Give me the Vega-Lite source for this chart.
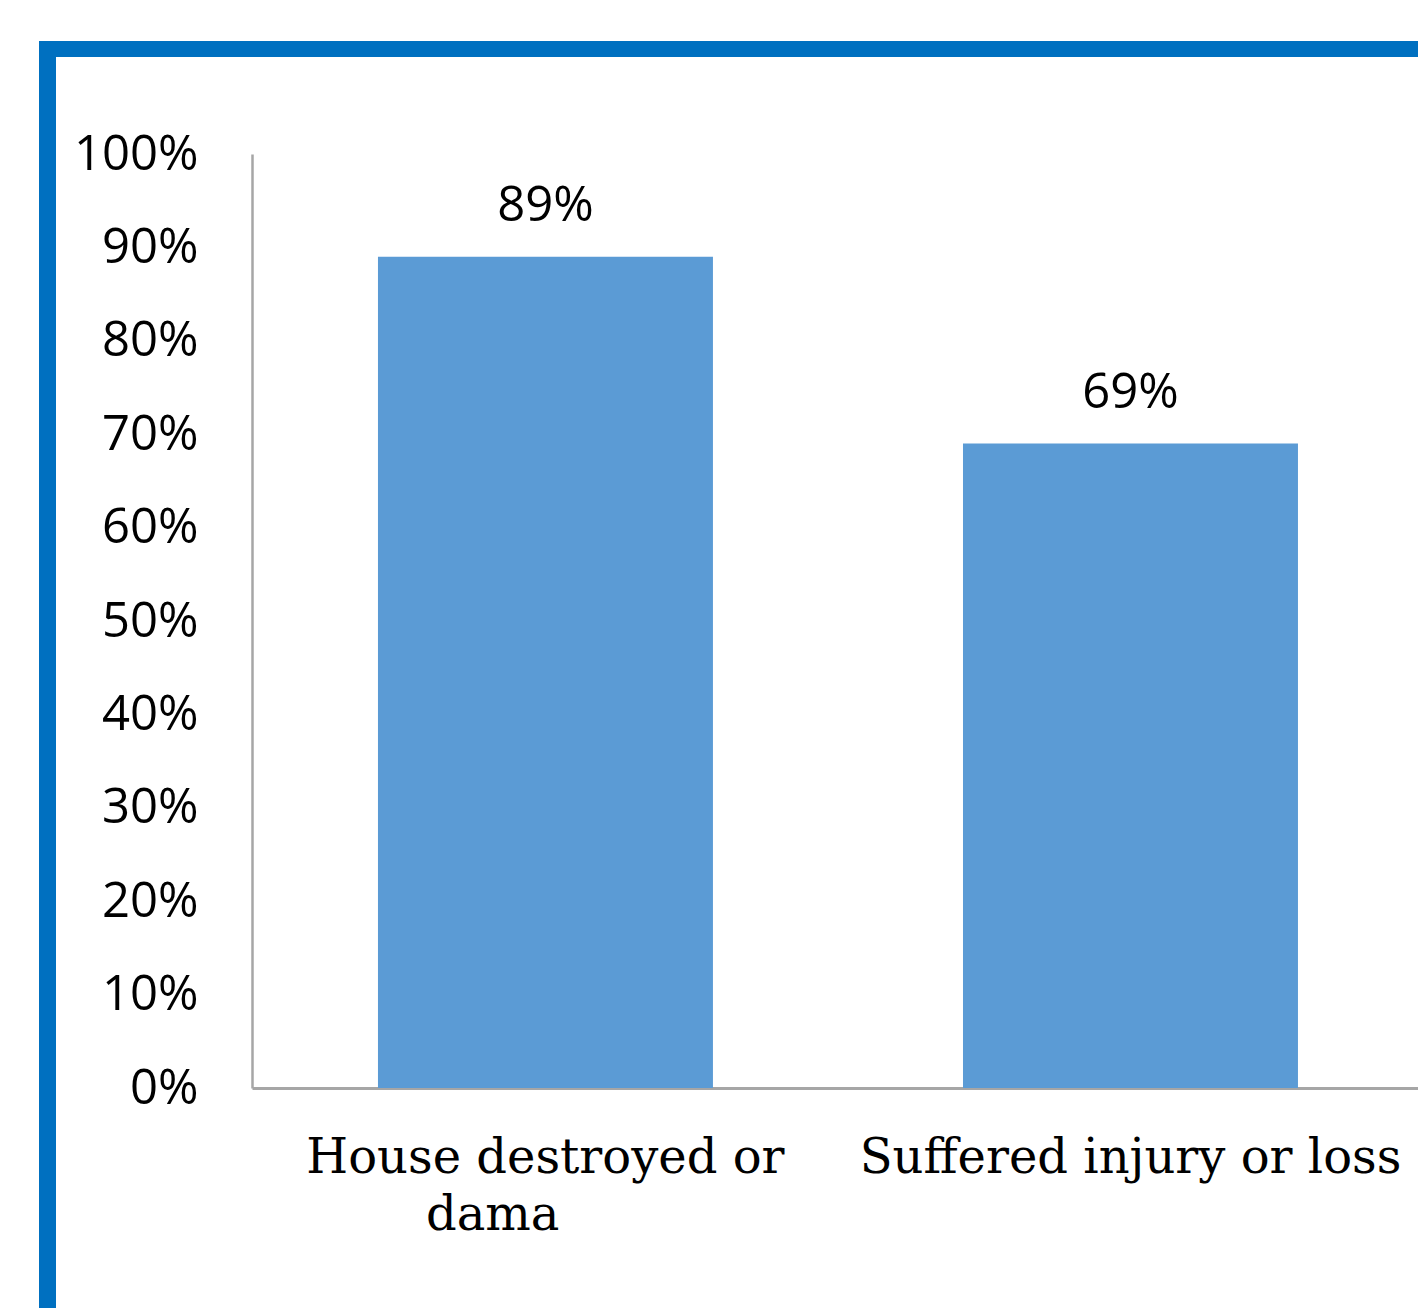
{
  "$schema": "https://vega.github.io/schema/vega-lite/v6.json",
  "padding": {"left": 38, "top": 40, "right": 0, "bottom": 0},
  "background": "white",
  "data": {"values": [
    {"category": "House destroyed or dama", "value": 0.89},
    {"category": "Suffered injury or loss", "value": 0.69}
  ]},
  "config": {"view": {"stroke": null}},
  "spacing": 0,
  "bounds": "flush",
  "vconcat": [
    {"width": 1380, "height": 16, "view": {"fill": "#0070C0", "stroke": null}, "mark": {"type": "rule", "opacity": 0}, "encoding": {}},
    {
      "spacing": 196,
      "bounds": "flush",
      "hconcat": [
        {"width": 17, "height": 1252, "view": {"fill": "#0070C0", "stroke": null}, "mark": {"type": "rule", "opacity": 0}, "encoding": {}},
        {
          "spacing": 96,
          "bounds": "flush",
          "vconcat": [
            {"width": 1, "height": 1, "mark": {"type": "rule", "opacity": 0}, "encoding": {}},
            {
              "width": 1167,
              "height": 934,
              "encoding": {
                "x": {
                  "field": "category", "type": "nominal", "sort": null,
                  "scale": {"paddingInner": 0.4274, "paddingOuter": 0.2111, "align": 0.51},
                  "axis": {
                    "title": null, "labelAngle": 0, "ticks": false, "labelPadding": 46,
                    "labelFont": "DejaVu Serif", "labelFontSize": 48, "labelColor": "#000000",
                    "labelLineHeight": 57, "labelLimit": 0,
                    "domainColor": "#A6A6A6", "domainWidth": 3,
                    "labelExpr": "datum.value == 'House destroyed or dama' ? ['House destroyed or', 'dama\u2800\u2800\u2800'] : datum.value"
                  }
                }
              },
              "layer": [
                {
                  "mark": {"type": "bar", "color": "#5B9BD5"},
                  "encoding": {
                    "y": {
                      "field": "value", "type": "quantitative",
                      "scale": {"domain": [0, 1], "nice": false},
                      "axis": {
                        "title": null, "values": [0, 0.1, 0.2, 0.3, 0.4, 0.5, 0.6, 0.7, 0.8, 0.9, 1],
                        "format": ".0%", "ticks": false, "grid": false, "labelPadding": 54,
                        "labelFont": "Open Sans", "labelFontSize": 49, "labelColor": "#000000",
                        "labelFlush": false, "labelOverlap": false,
                        "domainColor": "#A6A6A6", "domainWidth": 2.5
                      }
                    }
                  }
                },
                {
                  "mark": {"type": "text", "dy": -36, "baseline": "alphabetic", "font": "Open Sans", "fontSize": 49, "color": "#000000"},
                  "encoding": {
                    "y": {"field": "value", "type": "quantitative"},
                    "text": {"field": "value", "type": "quantitative", "format": ".0%"}
                  }
                }
              ]
            }
          ]
        }
      ]
    }
  ]
}
